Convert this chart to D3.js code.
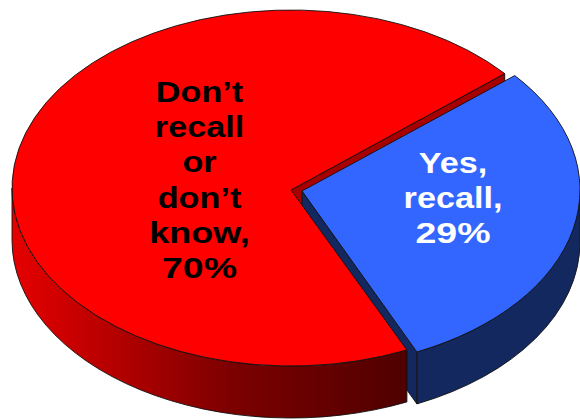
<!DOCTYPE html>
<html><head><meta charset="utf-8">
<style>html,body{margin:0;padding:0;background:#fff}svg{display:block}</style>
<script src="https://cdn.jsdelivr.net/npm/d3@7"></script></head>
<body><svg id="c" width="580" height="420"></svg>
<script>
const categories = ["Yes, recall", "Don’t recall or don’t know"];
const values = [29, 70];
const labelLines = [["Yes,", "recall,", "29%"], ["Don’t", "recall", "or", "don’t", "know,", "70%"]];
const topColors = ["#3366ff", "#ff0000"];
const textColors = ["#ffffff", "#000000"];

const W = 580, H = 420;
const rx = 279, ry = 178, depth = 52;
const startDeg = 50;
const centers = [{x: 301, y: 190, ax: 302, ay: 191}, {x: 291, y: 188, ax: 291, ay: 190}];
const labelPos = [{x: 453, y: 173}, {x: 199.5, y: 102}];
const lineGap = [35, 35.2];
const xStretch = t => t.endsWith("%") ? 1.25 : t.startsWith("know") ? 1.2 : 1.14;

const svg = d3.select("#c");
const defs = svg.append("defs");
const grad = defs.append("linearGradient").attr("id", "redSide").attr("gradientUnits", "userSpaceOnUse")
  .attr("x1", 12).attr("x2", 408).attr("y1", 0).attr("y2", 0);
grad.append("stop").attr("offset", 0).attr("stop-color", "#e60000");
grad.append("stop").attr("offset", 0.55).attr("stop-color", "#7d0000");
grad.append("stop").attr("offset", 1).attr("stop-color", "#4f0000");

const pie = d3.pie().sort(null).startAngle(startDeg * Math.PI / 180).endAngle((startDeg + 360) * Math.PI / 180);
const arcs = pie(values);

const pt = (c, a, dy = 0) => [c.x + rx * Math.sin(a), c.y - ry * Math.cos(a) + dy];
const apex = (c, dy = 0) => [c.ax, c.ay + dy];

function topPath(c, d) {
  const a = pt(c, d.startAngle), b = pt(c, d.endAngle), o = apex(c);
  const large = d.endAngle - d.startAngle > Math.PI ? 1 : 0;
  return `M${o}L${a}A${rx},${ry} 0 ${large} 1 ${b}Z`;
}
function rimPath(c, a0, a1) {
  const p = pt(c, a0), q = pt(c, a1), p2 = pt(c, a0, depth), q2 = pt(c, a1, depth);
  return `M${p}A${rx},${ry} 0 0 1 ${q}L${q2}A${rx},${ry} 0 0 0 ${p2}Z`;
}
function wallPath(c, a) {
  return `M${apex(c)}L${pt(c, a)}L${pt(c, a, depth)}L${apex(c, depth)}Z`;
}
const stroke = g => g.attr("stroke", "#111").attr("stroke-width", 0.9).attr("stroke-linejoin", "round");

const blue = arcs[0], red = arcs[1];
const cB = centers[0], cR = centers[1];

svg.append("path").attr("d", wallPath(cR, red.endAngle)).attr("fill", "#a80000").call(stroke);
svg.append("path").attr("d", wallPath(cB, blue.endAngle)).attr("fill", "#12285f").call(stroke);
svg.append("path").attr("d", rimPath(cR, red.startAngle, 3 * Math.PI / 2)).attr("fill", "url(#redSide)").call(stroke);
svg.append("path").attr("d", topPath(cR, red)).attr("fill", topColors[1]).call(stroke);
svg.append("path").attr("d", rimPath(cB, Math.PI / 2, blue.endAngle)).attr("fill", "#12285f").call(stroke);
svg.append("path").attr("d", topPath(cB, blue)).attr("fill", topColors[0]).call(stroke);

labelLines.forEach((lines, i) => {
  lines.forEach((t, j) => {
    svg.append("text")
      .attr("transform", `translate(${labelPos[i].x},${labelPos[i].y + j * lineGap[i]}) scale(${xStretch(t)},1)`)
      .attr("text-anchor", "middle")
      .attr("font-family", "'Liberation Sans',Arial,sans-serif")
      .attr("font-weight", "bold").attr("font-size", 30)
      .attr("fill", textColors[i]).text(t);
  });
});
</script></body></html>
